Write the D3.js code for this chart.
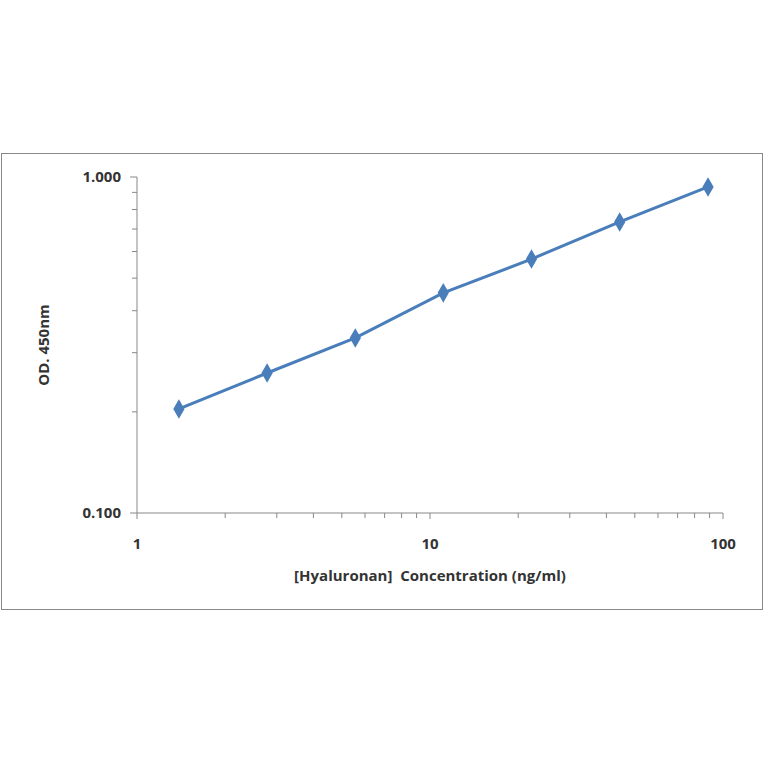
<!DOCTYPE html>
<html><head><meta charset="utf-8">
<script src="https://cdn.jsdelivr.net/npm/d3@7"></script>
<style>body{margin:0;background:#fff}</style></head>
<body><svg id="c" width="764" height="764"></svg>
<script>
const conc = [1.39, 2.78, 5.56, 11.1, 22.2, 44.4, 88.9];
const od = [0.204, 0.261, 0.332, 0.452, 0.570, 0.735, 0.934];
const xTickLabels = [1, 10, 100];
const yTickLabels = ["0.100", "1.000"];

const svg = d3.select("#c");
const font = "'Open Sans', sans-serif";
svg.append("rect").attr("x",1.5).attr("y",153.5).attr("width",761).attr("height",456)
  .attr("fill","#fff").attr("stroke","#888");
const x = d3.scaleLog().domain([1,100]).range([137,723]);
const y = d3.scaleLog().domain([0.1,1]).range([513,177]);

const xMinor = [], yMinor = [];
for (let d of [1,10]) for (let k=2;k<=9;k++) xMinor.push(d*k);
for (let k=2;k<=9;k++) yMinor.push(k/10);

const gx = svg.append("g").attr("transform","translate(0,513)");
gx.append("line").attr("x1",137).attr("x2",723).attr("stroke","#888");
gx.selectAll(".mj").data(xTickLabels).join("line").attr("x1",d=>x(d)).attr("x2",d=>x(d)).attr("y1",0).attr("y2",6).attr("stroke","#888");
gx.selectAll(".mn").data(xMinor).join("line").attr("x1",d=>x(d)).attr("x2",d=>x(d)).attr("y1",0).attr("y2",5).attr("stroke","#888");
gx.selectAll("text").data(xTickLabels).join("text").attr("x",d=>x(d)).attr("y",36)
  .attr("text-anchor","middle").attr("font-family",font).attr("font-weight","bold").attr("font-size",15).attr("fill","#333").text(d=>d);

const gy = svg.append("g").attr("transform","translate(137,0)");
gy.append("line").attr("y1",177).attr("y2",513).attr("stroke","#888");
gy.selectAll(".mj").data([0.1,1]).join("line").attr("y1",d=>y(d)).attr("y2",d=>y(d)).attr("x1",-7).attr("x2",0).attr("stroke","#888");
gy.selectAll(".mn").data(yMinor).join("line").attr("y1",d=>y(d)).attr("y2",d=>y(d)).attr("x1",-5).attr("x2",0).attr("stroke","#888");
gy.selectAll("text").data(yTickLabels).join("text").attr("x",-16).attr("y",d=>y(+d)+5)
  .attr("text-anchor","end").attr("font-family",font).attr("font-weight","bold").attr("font-size",15).attr("fill","#333").text(d=>d);

const pts = conc.map((c,i)=>[c,od[i]]);
svg.append("path").datum(pts).attr("d",d3.line().x(d=>x(d[0])).y(d=>y(d[1])))
  .attr("fill","none").attr("stroke","#4a7ebb").attr("stroke-width",3);
svg.selectAll(".pt").data(pts).join("path")
  .attr("d",d3.symbol(d3.symbolDiamond,110))
  .attr("transform",d=>`translate(${x(d[0])},${y(d[1])})`).attr("fill","#4a7ebb");

svg.append("text").attr("x",430).attr("y",581).attr("text-anchor","middle")
  .attr("font-family",font).attr("font-weight","bold").attr("font-size",15).attr("fill","#333")
  .attr("xml:space","preserve").text("[Hyaluronan]  Concentration (ng/ml)");
svg.append("text").attr("transform","translate(49,345) rotate(-90)").attr("text-anchor","middle")
  .attr("font-family",font).attr("font-weight","bold").attr("font-size",15).attr("fill","#333").text("OD. 450nm");
</script></body></html>
